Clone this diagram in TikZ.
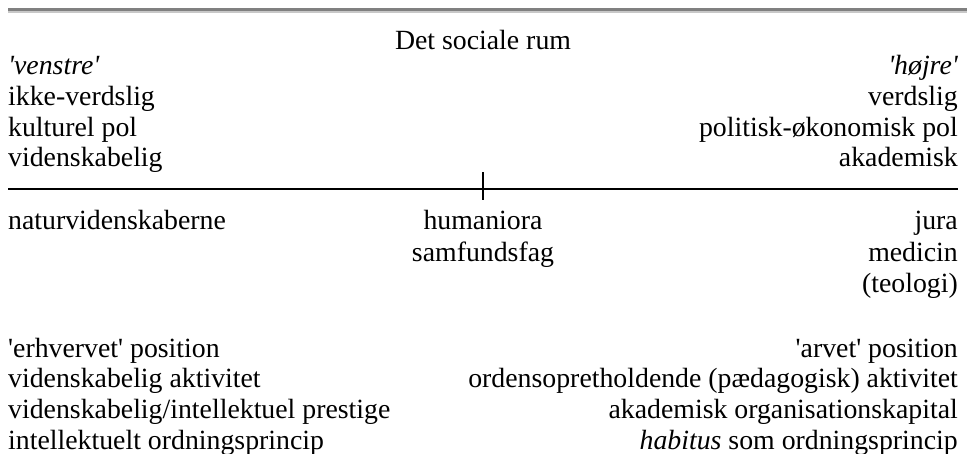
\documentclass[tikz,border=0pt]{standalone}
\usepackage{fontspec}
\newfontfamily\tms{Liberation Serif}
\definecolor{ruledark}{HTML}{808080}
\definecolor{rulelight}{HTML}{C8C8C8}
\begin{document}
\begin{tikzpicture}[x=1pt,y=-1pt,
  txt/.style={inner sep=0pt,font=\tms\fontsize{27.8}{31}\selectfont},
  lft/.style={txt,anchor=base west},
  rgt/.style={txt,anchor=base east},
  mid/.style={txt,anchor=base},
  axis/.style={line width=2pt}]
\useasboundingbox[fill=white] (0,0) rectangle (967,453);
% top rule
\fill[ruledark] (8,8) rectangle (967,11);
\fill[rulelight] (8,11) rectangle (967,13);
% title
\node[mid] (title) at (483,49) {Det sociale rum};
% left upper
\node[lft] (l1) at (8,74) {\itshape 'venstre'};
\node[lft] (l2) at (8,105) {ikke-verdslig};
\node[lft] (l3) at (8,136) {kulturel pol};
\node[lft] (l4) at (8,166) {videnskabelig};
% right upper
\node[rgt] (r1) at (958,74) {\itshape 'højre'};
\node[rgt] (r2) at (958,105) {verdslig};
\node[rgt] (r3) at (958,136) {politisk-økonomisk pol};
\node[rgt] (r4) at (958,166) {akademisk};
% axis
\coordinate (axL) at (8,189);
\coordinate (axR) at (958,189);
\coordinate (tickT) at (483,172);
\coordinate (tickB) at (483,200);
\draw[axis] (axL) -- (axR);
\draw[axis] (tickT) -- (tickB);
% disciplines
\node[lft] (d1) at (8,229) {naturvidenskaberne};
\node[mid] (d2) at (483,229) {humaniora};
\node[mid] (d3) at (483,261) {samfundsfag};
\node[rgt] (d4) at (958,229) {jura};
\node[rgt] (d5) at (958,261) {medicin};
\node[rgt] (d6) at (958,292) {(teologi)};
% lower left
\node[lft] (b1) at (8,357) {'erhvervet' position};
\node[lft] (b2) at (8,387) {videnskabelig aktivitet};
\node[lft] (b3) at (8,418) {videnskabelig/intellektuel prestige};
\node[lft] (b4) at (8,449) {intellektuelt ordningsprincip};
% lower right
\node[rgt] (c1) at (958,357) {'arvet' position};
\node[rgt] (c2) at (958,387) {ordensopretholdende (pædagogisk) aktivitet};
\node[rgt] (c3) at (958,418) {akademisk organisationskapital};
\node[rgt] (c4) at (958,449) {\textit{habitus} som ordningsprincip};
\end{tikzpicture}
\end{document}
